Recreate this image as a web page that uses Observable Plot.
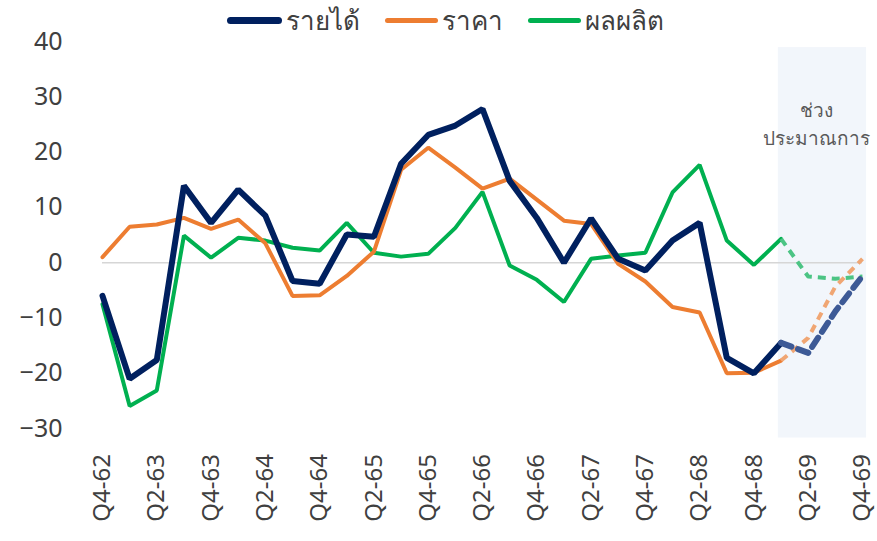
<!DOCTYPE html>
<html>
<head>
<meta charset="utf-8">
<script src="https://cdn.jsdelivr.net/npm/d3@7"></script>
<script src="https://cdn.jsdelivr.net/npm/@observablehq/plot@0.6"></script>
<style>
  body { margin: 0; background: #fff; font-family: "Noto Sans", "Open Sans", sans-serif; }
  #wrap { position: relative; width: 877px; height: 541px; }
  #legend { position: absolute; top: 0px; left: 227px; display: flex; align-items: center; font-size: 26px; color: #404040; }
  .item { display: flex; align-items: center; margin-right: 25px; }
  .sw { display: inline-block; border-radius: 4px; margin-right: 4px; }
</style>
</head>
<body>
<div id="wrap">
  <div id="legend"></div>
  <div id="chart"></div>
</div>
<script>
const quarters = ["Q4-62","Q1-63","Q2-63","Q3-63","Q4-63","Q1-64","Q2-64","Q3-64","Q4-64","Q1-65","Q2-65","Q3-65","Q4-65","Q1-66","Q2-66","Q3-66","Q4-66","Q1-67","Q2-67","Q3-67","Q4-67","Q1-68","Q2-68","Q3-68","Q4-68","Q1-69","Q2-69","Q3-69","Q4-69"];
const income = [-6,-21,-17.6,13.9,7.2,13.2,8.5,-3.3,-3.8,5.1,4.7,17.9,23.1,24.8,27.8,14.8,8.1,0,8.0,0.7,-1.4,4.0,7.2,-17.2,-20,-14.5,-16.3,-8.8,-2.4];
const price = [1.0,6.5,6.9,8.1,6.1,7.8,3.5,-6.0,-5.9,-2.4,2.0,16.8,20.8,17.2,13.4,15.2,11.4,7.6,7.0,-0.2,-3.4,-8.0,-9.0,-20,-19.9,-17.7,-13.6,-4.3,0.7];
const output = [-7.5,-25.9,-23.1,4.9,0.9,4.5,4.0,2.7,2.2,7.2,1.8,1.1,1.6,6.3,12.8,-0.5,-3.1,-7.1,0.7,1.3,1.8,12.7,17.7,4.0,-0.4,4.3,-2.5,-2.9,-2.5];
const seriesNames = ["รายได้","ราคา","ผลผลิต"];
const seriesColors = ["#00205f","#ed7d31","#00b050"];
const forecastColors = ["#3d5a96","#f0a673","#4cc484"];
const seriesWidths = [6,4,4];
const forecastStart = 25;          // index of Q1-69: forecast period begins
const forecastLabel = "ช่วง\nประมาณการ";
const yTicks = [-30,-20,-10,0,10,20,30,40];

const values = [income, price, output];
const actual = values.map(v => v.map((y, i) => ({i, y})).filter(d => d.i <= forecastStart));
const forecast = values.map(v => v.map((y, i) => ({i, y})).filter(d => d.i >= forecastStart));
const band = [{x1: forecastStart - 0.1, x2: quarters.length - 1 + 0.15, y1: -31.7, y2: 38.9}];
const labelPos = [{x: 26.3, y: 25.4, t: forecastLabel}];

const marks = [
  Plot.rect(band, {x1: "x1", x2: "x2", y1: "y1", y2: "y2", fill: "#f2f6fb"}),
  Plot.ruleY([0], {stroke: "#d6d6d6", strokeWidth: 1.5}),
  Plot.axisY({ticks: yTicks, tickSize: 0, tickPadding: 40, fontSize: 25, label: null}),
  Plot.axisX({ticks: d3.range(0, quarters.length, 2), tickFormat: i => quarters[i], tickRotate: -90, tickSize: 0, tickPadding: 16, fontSize: 24, label: null}),
  Plot.text(labelPos, {x: "x", y: "y", text: "t", fontSize: 19, fill: "#595959", lineHeight: 1.45, fontFamily: "Noto Sans, sans-serif"})
];
// draw order: green, orange, navy (navy on top)
[2,1,0].forEach(k => {
  marks.push(Plot.line(actual[k], {x: "i", y: "y", stroke: seriesColors[k], strokeWidth: seriesWidths[k], strokeLinejoin: "miter"}));
  marks.push(Plot.line(forecast[k], {x: "i", y: "y", stroke: forecastColors[k], strokeWidth: seriesWidths[k], strokeDasharray: k === 0 ? "11,7" : "8,6", strokeLinecap: k === 0 ? "round" : "butt"}));
});

const chart = Plot.plot({
  width: 877,
  height: 541,
  marginLeft: 102,
  marginRight: 15,
  marginTop: 41,
  marginBottom: 103.5,
  style: {fontFamily: "Noto Sans, sans-serif", color: "#404040", background: "transparent"},
  x: {domain: [0, quarters.length - 1]},
  y: {domain: [-31.7, 40]},
  marks
});
document.getElementById("chart").appendChild(chart);

const legend = document.getElementById("legend");
seriesNames.forEach((name, k) => {
  const item = document.createElement("div");
  item.className = "item";
  const sw = document.createElement("span");
  sw.className = "sw";
  sw.style.width = (k === 0 ? 55 : 53) + "px";
  sw.style.height = (k === 0 ? 7 : 5) + "px";
  sw.style.background = seriesColors[k];
  const tx = document.createElement("span");
  tx.textContent = name;
  item.appendChild(sw);
  item.appendChild(tx);
  legend.appendChild(item);
});
</script>
</body>
</html>
